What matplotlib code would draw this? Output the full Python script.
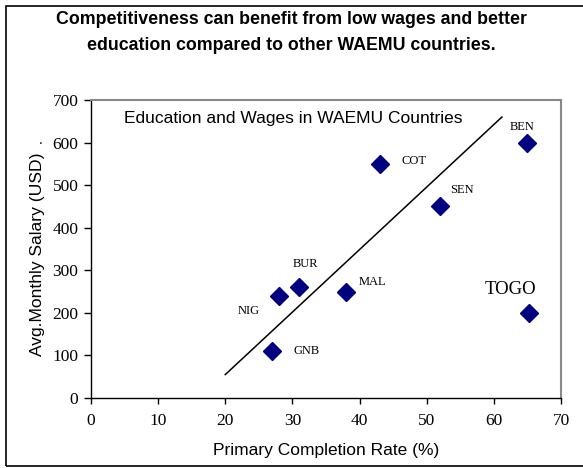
import matplotlib
matplotlib.use("Agg")
import matplotlib.pyplot as plt
from matplotlib.patches import Rectangle

# Country data: primary completion rate (%) vs average monthly salary (USD)
countries = ["BEN", "COT", "SEN", "BUR", "MAL", "NIG", "GNB", "TOGO"]
completion_rate = [65, 43, 52, 31, 38, 28, 27, 65.3]
monthly_salary = [600, 550, 450, 260, 250, 240, 110, 200]

# Trend line end points
trend_x = [20, 61.2]
trend_y = [55, 660]

x_ticks = [0, 10, 20, 30, 40, 50, 60, 70]
y_ticks = [0, 100, 200, 300, 400, 500, 600, 700]

# label offsets (points) relative to each marker
label_offsets = {
    "BEN": (-3.6, 11.5), "COT": (24.5, 2), "SEN": (16, 11.5), "BUR": (4.3, 17),
    "MAL": (19, 7), "NIG": (-22, -11), "GNB": (25, 0), "TOGO": (-14, 16.5),
}

serif = "Liberation Serif"
sans = "Liberation Sans"

fig = plt.figure(figsize=(5.83, 4.68), dpi=100)
fig.patch.set_facecolor("white")

# outer frame
fig.patches.append(Rectangle((6 / 583, (468 - 466) / 468), 1.0, (466 - 6) / 468,
                             transform=fig.transFigure, fill=False,
                             edgecolor="black", linewidth=1.2))

fig.text(0.5, 1 - 20 / 468, "Competitiveness can benefit from low wages and better",
         ha="center", va="center", fontsize=12.8, fontweight="bold", family=sans)
fig.text(0.5, 1 - 45 / 468, "education compared to other WAEMU countries.",
         ha="center", va="center", fontsize=12.8, fontweight="bold", family=sans)

ax = fig.add_axes([91 / 583, 70 / 468, 470 / 583, 298 / 468])
ax.set_xlim(0, 70)
ax.set_ylim(0, 700)

ax.plot(trend_x, trend_y, color="black", linewidth=1.1, zorder=2)
ax.plot(completion_rate, monthly_salary, linestyle="none", marker="D",
        markersize=9.5, color="#000080", zorder=3)

for name, xv, yv in zip(countries, completion_rate, monthly_salary):
    dx, dy = label_offsets[name]
    ax.annotate(name, (xv, yv), xytext=(dx, dy), textcoords="offset points",
                ha="center", va="center", family=serif,
                fontsize=13.5 if name == "TOGO" else 9)

ax.text((124 - 91) / 470, (398 - 119) / 298, "Education and Wages in WAEMU Countries",
        transform=ax.transAxes, ha="left", va="center", fontsize=12.5, family=sans)

ax.set_xticks(x_ticks)
ax.set_yticks(y_ticks)
ax.tick_params(axis="x", direction="out", length=4, width=1, pad=7, labelsize=12.5)
ax.tick_params(axis="y", direction="out", length=5, width=1, pad=4, labelsize=12.5)
for lab in ax.get_xticklabels() + ax.get_yticklabels():
    lab.set_family(serif)

for side in ("left", "bottom"):
    ax.spines[side].set_color("black")
    ax.spines[side].set_linewidth(1.0)
for side in ("top", "right"):
    ax.spines[side].set_color("#888888")
    ax.spines[side].set_linewidth(1.5)

ax.set_xlabel("Primary Completion Rate (%)", fontsize=12.5, family=sans)
ax.xaxis.set_label_coords(0.5, -(451 - 398) / 298)
ax.set_ylabel("Avg.Monthly Salary (USD)", fontsize=12.6, family=sans)
ax.yaxis.set_label_coords(-(91 - 38) / 470, (398 - 254) / 298)
ax.yaxis.label.set_va("center")
ax.xaxis.label.set_va("center")
fig.text(41 / 583, 1 - 140 / 468, ".", ha="center", va="center", fontsize=10, family=sans)

fig.savefig("out.png", dpi=100)
